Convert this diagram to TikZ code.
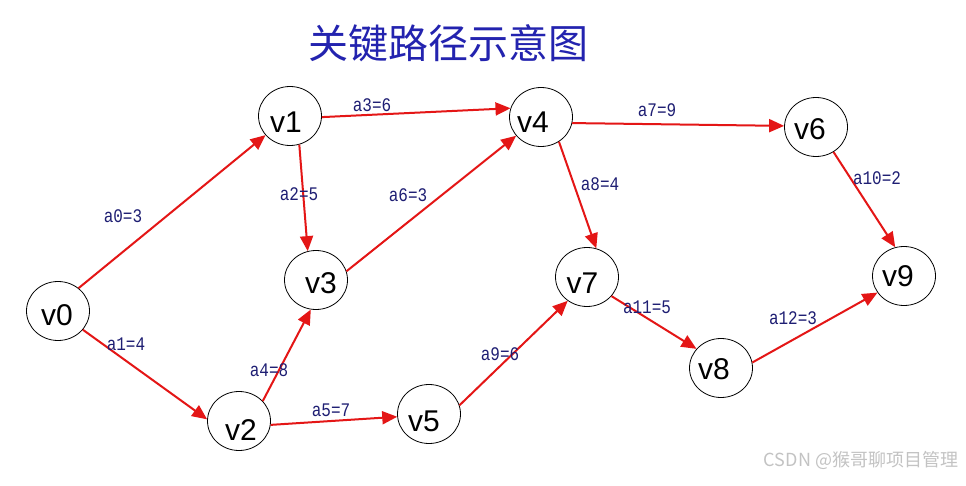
\documentclass[tikz,border=0pt]{standalone}
\usepackage{fontspec}
\setmainfont{Liberation Sans}
\newfontfamily\cjk{Noto Sans CJK SC}
\newfontfamily\lblfont{Liberation Mono}
\usetikzlibrary{arrows.meta,shapes.geometric}
\definecolor{edgered}{RGB}{228,22,22}
\definecolor{lblblue}{RGB}{30,30,115}
\definecolor{titleblue}{RGB}{35,35,175}
\definecolor{wmgray}{RGB}{195,195,195}
% #1 = twice the horizontal shift, #2 = downward shift of glyph centre (pt)
\newcommand\vtxt[3]{\raisebox{\dimexpr-#2pt-10.8pt\relax}[0pt][0pt]{\makebox[0pt]{\hspace*{#1pt}#3}}}
\newcommand\ltxt[1]{\scalebox{1}[1.2]{#1}}
\begin{document}
\begin{tikzpicture}[x=1pt,y=-1pt,
  vtx/.style={ellipse, draw=black, line width=0.8pt, minimum width=63pt, minimum height=59pt,
    inner sep=0pt, font=\fontsize{30}{30}\selectfont},
  arc/.style={draw=edgered, line width=2pt, -{Triangle[length=15pt,width=13pt]}},
  lbl/.style={text=lblblue, font=\lblfont\fontsize{16}{16}\selectfont, inner sep=0pt},
  ttl/.style={text=titleblue, font=\cjk\fontsize{40}{40}\selectfont, inner sep=0pt},
  wm/.style={text=wmgray, font=\cjk\fontsize{18}{18}\selectfont, inner sep=0pt}]
\useasboundingbox[fill=white] (0,0) rectangle (966,486);

\node[ttl] (title) at (448,43) {关键路径示意图};

\node[vtx] (v0) at (58,311) {\vtxt{-2}{4}{v0}};
\node[vtx] (v1) at (290,116) {\vtxt{-8}{6}{v1}};
\node[vtx] (v2) at (239,421) {\vtxt{4}{9}{v2}};
\node[vtx] (v3) at (316,280) {\vtxt{10}{3}{v3}};
\node[vtx] (v4) at (541,117) {\vtxt{-16}{5}{v4}};
\node[vtx] (v5) at (429,414) {\vtxt{-10}{7}{v5}};
\node[vtx] (v6) at (816,127) {\vtxt{-12}{2}{v6}};
\node[vtx] (v7) at (587,277) {\vtxt{-9}{6}{v7}};
\node[vtx] (v8) at (721,368) {\vtxt{-14}{1}{v8}};
\node[vtx] (v9) at (904,276) {\vtxt{-12}{0}{v9}};

\draw[arc] (v0.48.8) -- (v1.-142);
\draw[arc] (v0.-37.9) -- (v2.177);
\draw[arc] (v1.-72.8) -- (v3.106.9);
\draw[arc] (v1.-2) -- (v4.164);
\draw[arc] (v2.40) -- (v3.-100.6);
\draw[arc] (v2.-7) -- (v5.185);
\draw[arc] (v3.16) -- (v4.-143.5);
\draw[arc] (v4.-11) -- (v6.178);
\draw[arc] (v4.-54.5) -- (v7.72.9);
\draw[arc] (v5.16.7) -- (v7.-129.8);
\draw[arc] (v6.-55.3) -- (v9.107);
\draw[arc] (v7.-38.9) -- (v8.142.4);
\draw[arc] (v8.10.6) -- (v9.-148.7);

\node[lbl] (l0) at (123,216) {\ltxt{a0=3}};
\node[lbl] (l1) at (126,344) {\ltxt{a1=4}};
\node[lbl] (l2) at (299,194) {\ltxt{a2=5}};
\node[lbl] (l3) at (372,105) {\ltxt{a3=6}};
\node[lbl] (l4) at (269,370) {\ltxt{a4=8}};
\node[lbl] (l5) at (331,410) {\ltxt{a5=7}};
\node[lbl] (l6) at (408,195) {\ltxt{a6=3}};
\node[lbl] (l7) at (657,110) {\ltxt{a7=9}};
\node[lbl] (l8) at (600,184) {\ltxt{a8=4}};
\node[lbl] (l9) at (500,354) {\ltxt{a9=6}};
\node[lbl] (l10) at (877,178) {\ltxt{a10=2}};
\node[lbl] (l11) at (647,307) {\ltxt{a11=5}};
\node[lbl] (l12) at (793,318) {\ltxt{a12=3}};

\node[wm] (wmark) at (861,460) {CSDN @猴哥聊项目管理};
\end{tikzpicture}
\end{document}
